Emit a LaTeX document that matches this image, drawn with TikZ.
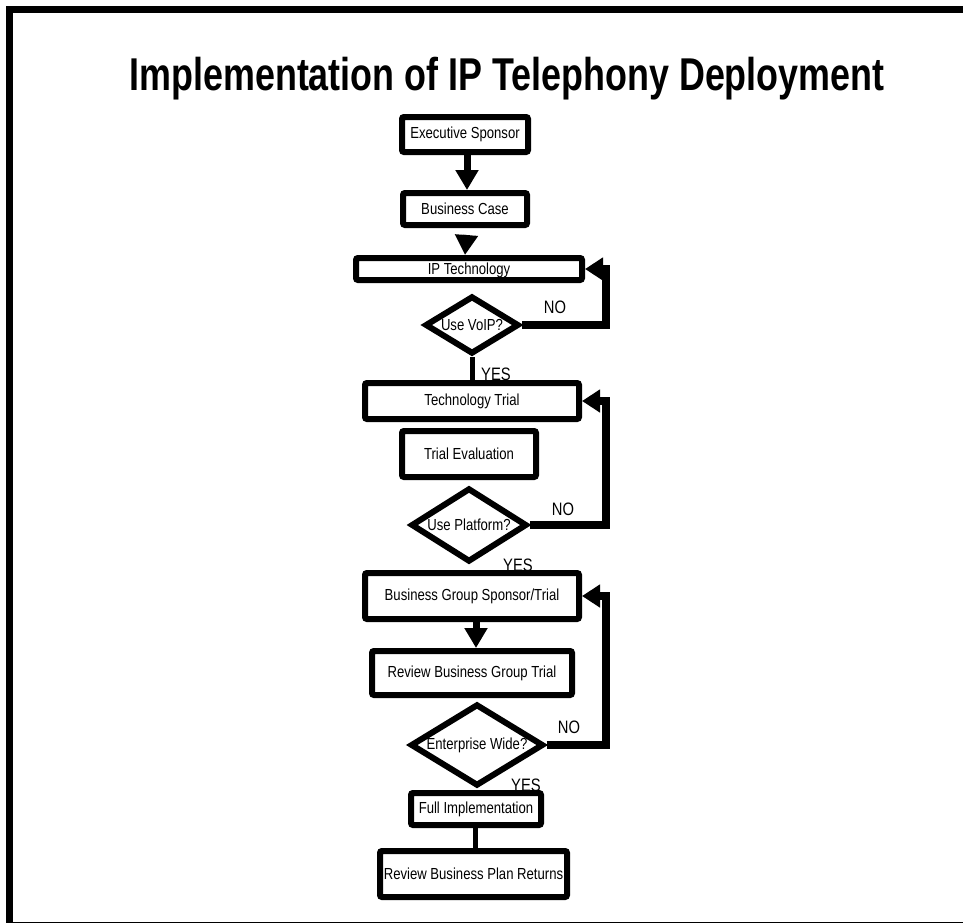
\documentclass[tikz,border=0pt]{standalone}
\usepackage{fontspec}
\setmainfont{Liberation Sans}[FakeStretch=0.82]
\newfontfamily\titlefont{Liberation Sans}[FakeStretch=0.78]
\usetikzlibrary{shapes.geometric,arrows.meta}

\begin{document}
\begin{tikzpicture}[x=1bp,y=-1bp,
  box/.style={draw, line width=6bp, rounded corners=2bp, inner sep=0pt,
    font=\fontsize{16bp}{18bp}\selectfont},
  dec/.style={diamond, draw, line width=6bp, inner sep=0pt, aspect=1.5,
    font=\fontsize{16bp}{18bp}\selectfont},
  arr/.style={line width=7bp, -{Triangle[length=20bp,width=22bp]}},
  link/.style={line width=5bp},
  back/.style={line width=8bp, line join=miter, -{Triangle[length=18bp,width=22bp]}},
  lbl/.style={font=\fontsize{18bp}{20bp}\selectfont, inner sep=0pt}]
\useasboundingbox (0,0) rectangle (963,923);

% frame
\fill (6,6) rectangle (963,12.7);
\fill (6,6) rectangle (13,923);
\fill (6,921.5) rectangle (963,923);

% title
\node[font=\titlefont\bfseries\fontsize{46bp}{48bp}\selectfont] (title) at (507,79)
  {Implementation of IP Telephony Deployment};

% process boxes
\node[box, minimum width=126bp, minimum height=35bp] (ex)  at (465,134.5) {Executive Sponsor};
\node[box, minimum width=124bp, minimum height=32bp] (bc)  at (465,209) {Business Case};
\node[box, minimum width=226bp, minimum height=22bp] (ip)  at (469,269) {\raisebox{-5bp}[0pt][0pt]{IP Technology}};
\node[dec, minimum width=94bp, minimum height=58bp]  (d1)  at (472,325) {Use VoIP?};
\node[box, minimum width=214bp, minimum height=36bp] (tt)  at (472,401) {Technology Trial};
\node[box, minimum width=134bp, minimum height=46bp] (te)  at (469,454) {Trial Evaluation};
\node[dec, minimum width=116bp, minimum height=74bp] (d2)  at (469,525) {Use Platform?};
\node[box, minimum width=214bp, minimum height=46bp] (bgs) at (472,596) {Business Group Sponsor/Trial};
\node[box, minimum width=200bp, minimum height=44bp] (rbg) at (472,673) {Review Business Group Trial};
\node[dec, minimum width=133bp, minimum height=74bp] (d3)  at (477,745) {Enterprise Wide?};
\node[box, minimum width=130bp, minimum height=32bp] (fi)  at (476,809) {Full Implementation};
\node[box, minimum width=187bp, minimum height=46bp] (rbp) at (473.5,874) {Review Business Plan Returns};

% forward flow
\draw[arr] ([xshift=2bp]ex.south) -- ([xshift=2bp]bc.north);
\draw[arr, shorten <=7bp] ([xshift=2bp]bc.south) -- (bc.south |- ip.north);
\draw[link] (d1.south) -- (d1.south |- tt.north);
\draw[arr] ([xshift=4bp]bgs.south) -- ([xshift=4bp]bgs.south |- rbg.north);
\draw[link] ([xshift=-1bp]fi.south) -- ([xshift=-1bp]fi.south |- rbp.north);

% loops back on NO
\draw[back] (d1.east) -| ([xshift=21bp]ip.east) -- (ip.east);
\draw[back] (d2.east) -| ([xshift=24bp]tt.east) -- (tt.east);
\draw[back] (d3.east) -| ([xshift=24bp]bgs.east) -- (bgs.east);

% branch labels
\node[lbl] (no1)  at (555,307) {NO};
\node[lbl] (yes1) at (496,374) {YES};
\node[lbl] (no2)  at (563,509) {NO};
\node[lbl] (yes2) at (518,565) {YES};
\node[lbl] (no3)  at (569,727) {NO};
\node[lbl] (yes3) at (526,785) {YES};
\end{tikzpicture}
\end{document}
